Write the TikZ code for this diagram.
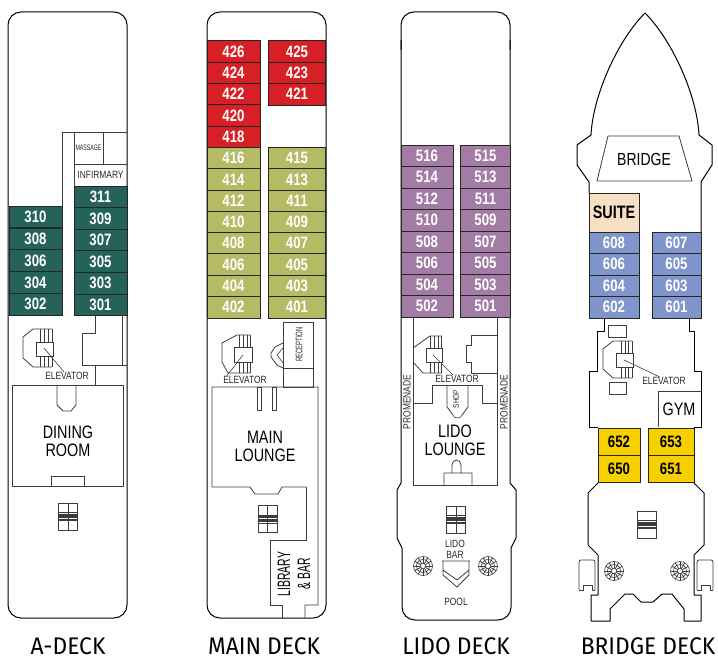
\documentclass[tikz,border=0pt]{standalone}
\usepackage{fontspec}
\setmainfont{Liberation Sans}
\newfontfamily\planfont[FakeStretch=0.8]{Liberation Sans}
\newfontfamily\titlefont[FakeStretch=0.95]{Fira Sans}
\usetikzlibrary{positioning}

\definecolor{acolor}{HTML}{25635A}
\definecolor{redcolor}{HTML}{D71F26}
\definecolor{olivecolor}{HTML}{B5BB65}
\definecolor{lidocolor}{HTML}{A27CA4}
\definecolor{bluecolor}{HTML}{7F95CB}
\definecolor{goldcolor}{HTML}{F7D000}
\definecolor{suitecolor}{HTML}{F6E0C3}
\definecolor{wallcolor}{HTML}{3C3C3C}

\tikzset{
    hull/.style={draw=black, line width=1pt, line join=round},
    wall/.style={draw=wallcolor, line width=.8pt},
    thin wall/.style={draw=wallcolor, line width=.6pt},
    cabin/.style={draw=black!85, line width=.8pt, inner sep=0pt, minimum height=21.5pt,
        text=white, font=\planfont\bfseries\fontsize{16.5}{16.5}\selectfont},
    deck title/.style={inner sep=0pt, font=\titlefont\fontsize{24}{25}\selectfont},
    big label/.style={inner sep=0pt, align=center, font=\planfont\fontsize{18}{18}\selectfont},
    small label/.style={inner sep=0pt, align=center, text=black!85, font=\planfont\fontsize{10.5}{11.5}\selectfont},
    stairs/.pic={
        \draw [thin wall] (-9.5,-13.5) rectangle (9.5,13.5);
        \foreach \offset in {-4,-2.7,...,4}
            \draw [thin wall] (-9.5,\offset) -- (9.5,\offset);
    },
    fan/.pic={
        \draw [thin wall] (0,0) circle (9.5) (0,0) circle (2.6) (0,0) circle (6.5);
        \foreach \angle in {0,30,...,330}
            \draw [wall] (\angle:2.6) -- (\angle:9.5);
    }
}

\begin{document}
\begin{tikzpicture}[x=1pt, y=-1pt]
    \useasboundingbox (0,0) rectangle (718,658);

    % A-deck
    \draw [hull, rounded corners=13pt] (8,12) rectangle (127,618);
    \foreach \num [count=\i from 0] in {310,308,306,304,302}
        \node [cabin, fill=acolor, minimum width=53pt] (c\num) at (35.5,217+21.8*\i) {\num};
    \foreach \num [count=\i from 0] in {311,309,307,305,303,301}
        \node [cabin, fill=acolor, minimum width=53pt] (c\num) at (100.5,196.8+21.6*\i) {\num};
    \draw [wall] (62,206) -- (62,132) -- (127,132) (74,132) -- (74,186) (103,132) -- (103,164) (74,164) -- (127,164);
    \node [small label, font=\planfont\fontsize{8}{8}\selectfont] (massage) at (88.5,148) {\scalebox{.82}[1]{MASSAGE}};
    \node [small label] (infirmary) at (100.5,175) {INFIRMARY};
    \draw [wall] (95,315) -- (95,333) -- (82,333) -- (82,365) -- (127,365) (122,315) -- (122,365) (95,365) -- (95,385);
    \draw [wall] (33,329) -- (23,337) -- (23,358) -- (33,367) -- (52,367) (33,329) -- (52,329);
    \foreach \x in {40,44,48,52}
        \draw [thin wall] (\x,329) -- (\x,367);
    \draw [wall, fill=white] (36,342) rectangle (53,356);
    \node [small label] (elevatorA) at (67,376) {ELEVATOR};
    \coordinate (shaftA) at (44,348);
    \draw [thin wall] (shaftA) -- ([xshift=-3pt]elevatorA.north);
    \draw [wall] (12,385) rectangle (123.5,486);
    \draw [wall] (57,385) -- (57,405) -- (63,411) -- (71,411) -- (76,405) -- (76,385);
    \draw [wall] (51,486) -- (51,476) -- (84,476) -- (84,486);
    \node [big label] (dining) at (68,441) {DINING\\ROOM};
    \pic at (68,516.5) {stairs};
    \draw [thin wall] (68,503) -- (68,530);
    \node [deck title] (adeck) at (68,646.5) {A-DECK};

    % Main deck
    \draw [hull, rounded corners=13pt] (207,12) rectangle (326,618);
    \foreach \num/\shade [count=\i from 0] in {426/redcolor,424/redcolor,422/redcolor,420/redcolor,418/redcolor,416/olivecolor,414/olivecolor,412/olivecolor,410/olivecolor,408/olivecolor,406/olivecolor,404/olivecolor,402/olivecolor}
        \node [cabin, fill=\shade, minimum width=53pt] (c\num) at (233.5,51.6+21.3*\i) {\num};
    \foreach \num/\i in {425/0,423/1,421/2}
        \node [cabin, fill=redcolor, minimum width=57pt] (c\num) at (297,51.6+21.3*\i) {\num};
    \foreach \num [count=\i from 5] in {415,413,411,409,407,405,403,401}
        \node [cabin, fill=olivecolor, minimum width=57pt] (c\num) at (297,51.6+21.3*\i) {\num};
    \draw [wall] (237,335) -- (222,343) -- (222,362) -- (228,373) -- (250,373) (237,335) -- (250,335);
    \foreach \x in {239,243,247,250}
        \draw [thin wall] (\x,335) -- (\x,373);
    \draw [wall, fill=white] (234,347) rectangle (252,362);
    \node [small label] (elevatorM) at (245,379.5) {ELEVATOR};
    \coordinate (shaftM) at (243,355);
    \draw [thin wall] (shaftM) -- ([xshift=-18pt]elevatorM.north);
    \draw [wall] (283,322) rectangle (313,387) (283,368) -- (313,368);
    \node [small label, rotate=90, font=\planfont\fontsize{9.5}{9.5}\selectfont] (reception) at (299,344.5) {\scalebox{.78}[1]{RECEPTION}};
    \draw [wall] (283,343) -- (275,347) -- (271,353) -- (271,357) -- (277,365) -- (283,368);
    \draw [thin wall] (283,348) -- (277,355) -- (283,363);
    \draw [wall] (306,487) -- (282,487) -- (278,494) -- (255,494) -- (250,487) -- (212,487) -- (212,387) -- (318,387) -- (318,605) -- (305,605) -- (305,618);
    \draw [wall] (306,487) -- (306,540) -- (270,540) -- (270,605) -- (282,605) -- (282,618);
    \draw [wall] (257,387) rectangle (261,410) (272,387) rectangle (276,410);
    \node [big label] (mainlounge) at (265,446) {MAIN\\LOUNGE};
    \pic at (267.5,519) {stairs};
    \draw [thin wall] (267.5,505.5) -- (267.5,532.5);
    \node [big label, rotate=90, font=\planfont\fontsize{18}{20}\selectfont] (library) at (294,574) {\scalebox{.72}[1]{LIBRARY}\\\scalebox{.72}[1]{\& BAR}};
    \node [deck title] (maindeck) at (264,646.5) {MAIN DECK};

    % Lido deck
    \draw [hull, rounded corners=13pt] (401,50) -- (401,12) -- (510,12) -- (510,50);
    \draw [hull] (401,40) -- (401,483) -- (397,490) -- (397,538) -- (402,548);
    \draw [hull] (510,40) -- (510,483) -- (516,490) -- (516,538) -- (511,548);
    \draw [hull, rounded corners=13pt] (402,548) -- (402,620) -- (511,620) -- (511,548);
    \foreach \num [count=\i from 0] in {516,514,512,510,508,506,504,502}
        \node [cabin, fill=lidocolor, minimum width=52pt] (c\num) at (427,155.7+21.5*\i) {\num};
    \foreach \num [count=\i from 0] in {515,513,511,509,507,505,503,501}
        \node [cabin, fill=lidocolor, minimum width=50pt] (c\num) at (485.5,155.7+21.5*\i) {\num};
    \draw [wall] (413,317) -- (413,485) -- (497,485) -- (497,317);
    \draw [wall] (430,336) -- (413,348) (413,362) -- (423,373) -- (442,373) (430,336) -- (442,336);
    \foreach \x in {430,434,438,441}
        \draw [thin wall] (\x,336) -- (\x,373);
    \draw [wall, fill=white] (426,348) rectangle (442,362);
    \node [small label] (elevatorL) at (457,379) {ELEVATOR};
    \coordinate (shaftL) at (433,355);
    \draw [thin wall] (shaftL) -- ([xshift=-4pt]elevatorL.north);
    \draw [wall] (497,335) -- (471,335) -- (471,345) -- (466,345) -- (466,362) -- (471,362) -- (471,373) -- (497,373);
    \draw [wall] (413,403) -- (432,403) -- (432,385) -- (482,385) -- (482,403) -- (497,403);
    \draw [wall] (447,385) -- (447,407) -- (453,415) (468,385) -- (468,407) -- (462,415);
    \draw [thin wall] (453,415) arc [start angle=180, end angle=360, x radius=4.5, y radius=-3];
    \node [small label, rotate=90, font=\planfont\fontsize{8}{8}\selectfont] (shop) at (456,399) {SHOP};
    \node [small label, rotate=90] (promenadeL) at (407,402) {PROMENADE};
    \node [small label, rotate=90] (promenadeR) at (504,402) {PROMENADE};
    \node [big label] (lidolounge) at (455,440.5) {LIDO\\LOUNGE};
    \draw [wall] (444,485) -- (444,473) -- (472,473) -- (472,485) (452,473) -- (452,465) arc [start angle=180, end angle=360, x radius=4.5, y radius=5] -- (461,473);
    \pic at (456,519.5) {stairs};
    \draw [thin wall] (456,506) -- (456,533);
    \node [small label] (lidobar) at (455,549.5) {LIDO\\BAR};
    \draw [wall] (442,561) -- (470,561) (443,561) -- (443,575) -- (457,587) -- (469,575) -- (469,561) (443,570) -- (457,580) -- (469,570);
    \node [small label] (pool) at (456,602) {POOL};
    \pic at (423,566) {fan};
    \pic at (488,566) {fan};
    \node [deck title] (lidodeck) at (456,646.5) {LIDO DECK};

    % Bridge deck
    \draw [hull] (645,13) .. controls (618,40) and (593,95) .. (591,135) -- (577,145) -- (577,165) -- (589,182) -- (589,193);
    \draw [hull] (645,13) .. controls (672,40) and (697,95) .. (699,135) -- (712,145) -- (712,165) -- (701,182) -- (701,232);
    \draw [wall] (608,136) -- (679,136) -- (692,181) -- (597,181) -- cycle;
    \node [big label, font=\planfont\fontsize{17.5}{18}\selectfont] (bridge) at (644,159) {BRIDGE};
    \node [cabin, fill=suitecolor, minimum width=50pt, minimum height=39pt, text=black] (suite) at (614,212.5) {\fontsize{18}{18}\selectfont SUITE};
    \foreach \num [count=\i from 0] in {608,606,604,602}
        \node [cabin, fill=bluecolor, minimum width=50pt] (c\num) at (614,242.7+21.5*\i) {\num};
    \foreach \num [count=\i from 0] in {607,605,603,601}
        \node [cabin, fill=bluecolor, minimum width=49pt] (c\num) at (676.5,242.7+21.5*\i) {\num};
    \draw [hull] (604,318) -- (604,331) -- (597,331) -- (597,371) -- (589,371) -- (589,427) -- (598,427);
    \draw [hull] (689,318) -- (689,331) -- (694,331) -- (694,371) -- (701,371) -- (701,427) -- (694,427);
    \draw [wall] (608,325) rectangle (626,337) (609,382) rectangle (626,394);
    \draw [wall] (632,341) -- (613,341) -- (603,349) -- (603,369) -- (613,378) -- (632,378);
    \foreach \x in {621,625,628,632}
        \draw [thin wall] (\x,341) -- (\x,378);
    \draw [wall, fill=white] (616,353) rectangle (633,367);
    \node [small label] (elevatorB) at (664,381) {ELEVATOR};
    \coordinate (shaftB) at (624,360);
    \draw [thin wall] (shaftB) -- ([xshift=-4pt]elevatorB.north);
    \draw [wall] (701,391) -- (658,391) -- (658,427);
    \node [big label] (gym) at (679,409) {GYM};
    \foreach \num [count=\i from 0] in {652,650}
        \node [cabin, fill=goldcolor, minimum width=42pt, minimum height=27pt, text=black] (c\num) at (619,441.5+27*\i) {\num};
    \foreach \num [count=\i from 0] in {653,651}
        \node [cabin, fill=goldcolor, minimum width=46pt, minimum height=27pt, text=black] (c\num) at (671,441.5+27*\i) {\num};
    \draw [hull] (598,483) -- (588,493) -- (588,545) -- (598,555) -- (598,595) -- (591,595) -- (591,621) -- (610,621) -- (610,609) -- (625,594) -- (633,594) -- (641,602) -- (653,602) -- (662,594) -- (672,594) -- (684,609) -- (684,621) -- (701,621) -- (701,595) -- (694,595) -- (694,555) -- (704,545) -- (704,493) -- (694,483);
    \draw [wall, rounded corners=2pt] (579,590) -- (579,560) -- (595,560) -- (595,590);
    \draw [wall] (579,590) -- (583,590) -- (583,585) -- (592,585) -- (592,590) -- (595,590);
    \draw [wall, rounded corners=2pt] (697,590) -- (697,560) -- (713,560) -- (713,590);
    \draw [wall] (697,590) -- (701,590) -- (701,585) -- (710,585) -- (710,590) -- (713,590);
    \pic at (647,524.5) {stairs};
    \pic at (614,571) {fan};
    \pic at (680,571) {fan};
    \node [deck title] (bridgedeck) at (648,646.5) {BRIDGE DECK};
\end{tikzpicture}
\end{document}
